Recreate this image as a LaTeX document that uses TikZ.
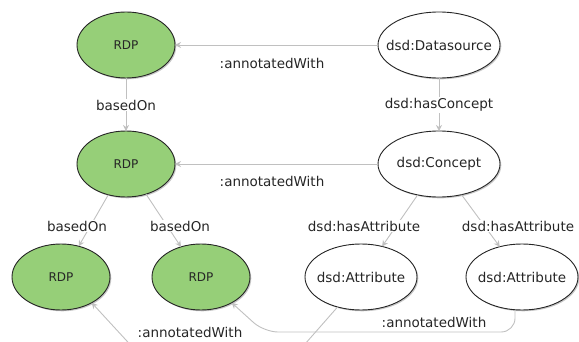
\documentclass[tikz,border=0pt]{standalone}
\usepackage{fontspec}
\setmainfont{DejaVu Sans}
\usetikzlibrary{arrows.meta,shapes.geometric,shadows}
\definecolor{rdpgreen}{RGB}{150,207,120}
\definecolor{edgegray}{RGB}{192,192,192}
\definecolor{inkgray}{RGB}{38,38,38}
\begin{document}
\begin{tikzpicture}[x=1pt,y=-1pt,
  every node/.style={text=inkgray},
  cls/.style={ellipse, draw=inkgray, line width=0.9pt, fill=white,
    minimum width=#1, minimum height=66pt, inner sep=0pt, outer sep=0pt,
    font=\fontsize{13.5}{15}\selectfont,
    drop shadow={shadow xshift=1.3pt, shadow yshift=-1.3pt, opacity=0.22, fill=black}},
  rdp/.style={cls=98pt, fill=rdpgreen, font=\fontsize{12}{14}\selectfont},
  rel/.style={draw=edgegray, line width=0.9pt, -{Stealth[length=6pt,width=6pt,inset=2pt]}},
  lbl/.style={fill=white, inner sep=1pt, font=\fontsize{13.5}{15}\selectfont}]
\useasboundingbox (0,0) rectangle (579,342);
\clip (0,0) rectangle (579,342);

% resources and data source side
\node[rdp] (rdpA) at (126,45) {\makebox[0pt]{RDP}};
\node[cls=122pt] (ds) at (439,45) {\makebox[0pt]{dsd:Datasource}};
\node[rdp] (rdpB) at (126,164) {\makebox[0pt]{RDP}};
\node[cls=122pt] (con) at (439,164) {\makebox[0pt]{dsd:Concept}};
\node[rdp] (rdpC) at (61,277) {\makebox[0pt]{RDP}};
\node[rdp] (rdpD) at (201,277) {\makebox[0pt]{RDP}};
\node[cls=112pt] (attA) at (361,277) {\makebox[0pt]{dsd:Attribute}};
\node[cls=112pt] (attB) at (522,277) {\makebox[0pt]{dsd:Attribute}};

% waypoints of the lower connectors
\coordinate (lowR) at (0,332);
\coordinate (turnR) at (264,332);
\coordinate (bendA) at (298,352);
\coordinate (bendB) at (137,352);

% straight relations
\draw[rel] (ds) -- (rdpA);
\draw[rel] (rdpA) -- (rdpB);
\draw[rel] (ds) -- (con);
\draw[rel] (con) -- (rdpB);
\draw[rel] (rdpB) -- (rdpC);
\draw[rel] (rdpB) -- (rdpD);
\draw[rel] (con) -- (attA);
\draw[rel] (con) -- (attB);

% routed relations below the bottom row
\draw[rel, rounded corners=14pt] (attB.258) -- (attB.258 |- lowR) -- (turnR) -- (rdpD.-40);
\draw[rel, rounded corners=10pt] (attA.232) -- (bendA) -- (bendB) -- (rdpC.-40);

% edge labels
\node[lbl] (l1) at (272,63) {:annotatedWith};
\node[lbl] (l2) at (126,105) {basedOn};
\node[lbl] (l3) at (439,105) {dsd:hasConcept};
\node[lbl] (l4) at (272,181) {:annotatedWith};
\node[lbl] (l5) at (77,226) {basedOn};
\node[lbl] (l6) at (180,226) {basedOn};
\node[lbl] (l7) at (364,226) {dsd:hasAttribute};
\node[lbl] (l8) at (518,226) {dsd:hasAttribute};
\node[lbl] (l9) at (190,332) {:annotatedWith};
\node[lbl] (l10) at (434,322) {:annotatedWith};
\end{tikzpicture}
\end{document}
